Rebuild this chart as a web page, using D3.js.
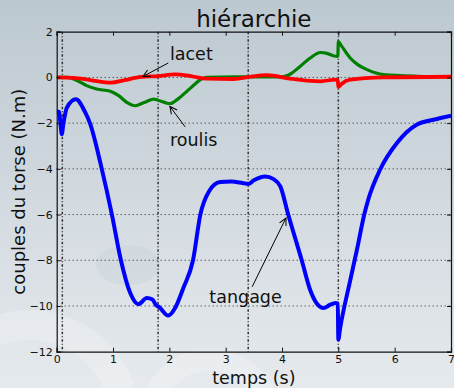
<!DOCTYPE html>
<html>
<head>
<meta charset="utf-8">
<script src="https://cdn.jsdelivr.net/npm/d3@7"></script>
<style>
  html, body { margin: 0; padding: 0; }
  body { width: 454px; height: 388px; overflow: hidden; }
  text { font-family: "DejaVu Sans", sans-serif; }
</style>
</head>
<body>
<div class="box"></div>
<script>
// Values (temps in s, couples in N.m)
const tangageT = [0, 0.04, 0.07, 0.09, 0.12, 0.18, 0.34, 0.5, 0.59, 0.8, 0.98, 1.14, 1.3, 1.45, 1.6, 1.7, 1.76, 1.82, 1.98, 2.1, 2.25, 2.42, 2.55, 2.7, 2.9, 3.1, 3.3, 3.4, 3.5, 3.7, 3.85, 3.97, 4.11, 4.35, 4.5, 4.62, 4.74, 4.85, 4.95, 4.99, 5.0, 5.03, 5.2, 5.33, 5.46, 5.53, 5.74, 6.04, 6.39, 6.75, 7.0];
const tangageV = [-1.5, -1.5, -2.1, -2.48, -2.0, -1.33, -0.96, -1.5, -2.0, -4.0, -6.0, -8.0, -9.4, -9.92, -9.65, -9.72, -9.95, -10.05, -10.42, -10.1, -9.2, -8.0, -6.0, -5.0, -4.58, -4.55, -4.62, -4.66, -4.5, -4.33, -4.45, -4.77, -6.0, -8.0, -9.3, -9.9, -10.09, -9.95, -9.87, -9.9, -11.47, -11.0, -9.0, -7.54, -6.0, -5.35, -4.04, -2.87, -2.07, -1.82, -1.68];

const roulisT = [0, 0.2, 0.35, 0.53, 0.71, 0.95, 1.1, 1.25, 1.39, 1.5, 1.6, 1.72, 1.8, 1.9, 2.01, 2.15, 2.31, 2.45, 2.55, 2.66, 3.2, 4.0, 4.15, 4.32, 4.5, 4.68, 4.8, 4.91, 4.99, 5.0, 5.05, 5.21, 5.35, 5.51, 5.8, 6.4, 7.0];
const roulisV = [0, 0, -0.12, -0.36, -0.51, -0.61, -0.8, -1.1, -1.24, -1.15, -1.05, -0.95, -1.0, -1.08, -1.15, -0.95, -0.61, -0.3, -0.1, 0, 0.02, 0.02, 0.15, 0.48, 0.85, 1.09, 1.05, 0.95, 0.92, 1.57, 1.4, 0.85, 0.55, 0.34, 0.12, 0.05, 0.03];

const lacetT = [0, 0.3, 0.6, 0.97, 1.2, 1.5, 1.8, 2.1, 2.4, 2.66, 3.14, 3.45, 3.73, 4.14, 4.5, 4.68, 4.94, 4.99, 5.0, 5.05, 5.21, 5.8, 7.0];
const lacetV = [0, -0.02, -0.12, -0.23, -0.12, 0.02, 0.06, 0.13, 0.05, -0.05, -0.07, 0.03, 0.1, -0.05, -0.15, -0.17, -0.1, -0.12, -0.42, -0.3, -0.1, 0, 0.03];

// dotted vertical markers (changes of phase)
const eventTimes = [0.1, 1.8, 3.4, 5.0];

const xTicks = [0, 1, 2, 3, 4, 5, 6, 7];
const yTicks = [-12, -10, -8, -6, -4, -2, 0, 2];

// annotations: label, text position, arrow tail, arrow tip (data coords)
const annotations = [
    {label: "lacet",   tx: 2.01, ty: 0.78,  x1: 1.98, y1: 0.63,  x2: 1.53, y2: 0.04},
    {label: "roulis",  tx: 2.01, ty: -2.99, x1: 2.28, y1: -2.16, x2: 2.01, y2: -1.27},
    {label: "tangage", tx: 2.71, ty: -9.87, x1: 3.47, y1: -9.16, x2: 4.07, y2: -6.15}
];

const w = 454;
const h = 388;
const padLeft = 56.7, padRight = 451, padTop = 31.7, padBottom = 351.7;

const xScale = d3.scaleLinear().domain([0, 7]).range([padLeft, padRight]);
const yScale = d3.scaleLinear().domain([-12, 2]).range([padBottom, padTop]);

const svg = d3.select(".box")
    .append("svg")
    .attr("width", w)
    .attr("height", h);

const defs = svg.append("defs");
const grad = defs.append("linearGradient")
    .attr("id", "bg")
    .attr("x1", 0).attr("y1", 0).attr("x2", 0).attr("y2", 1);
grad.append("stop").attr("offset", "0%").attr("stop-color", "#bcc8d0");
grad.append("stop").attr("offset", "55%").attr("stop-color", "#d4dbe1");
grad.append("stop").attr("offset", "100%").attr("stop-color", "#e6eaed");

defs.append("marker")
    .attr("id", "arrow")
    .attr("viewBox", "0 0 10 10")
    .attr("refX", 9).attr("refY", 5)
    .attr("markerWidth", 9).attr("markerHeight", 9)
    .attr("markerUnits", "userSpaceOnUse")
    .attr("orient", "auto")
    .append("path")
    .attr("d", "M1,1 L9,5 L1,9")
    .attr("fill", "none")
    .attr("stroke", "black")
    .attr("stroke-width", 1.1);

defs.append("clipPath").attr("id", "clip")
    .append("rect")
    .attr("x", padLeft).attr("y", padTop - 4)
    .attr("width", padRight - padLeft).attr("height", padBottom - padTop + 8);

// background
svg.append("rect")
    .attr("width", w).attr("height", h)
    .attr("fill", "url(#bg)");

// faint decorative swirls of the slide background
const blobs = svg.append("g").attr("fill", "none").attr("stroke", "#ffffff").attr("stroke-opacity", 0.22);
blobs.append("circle").attr("cx", 30).attr("cy", 420).attr("r", 95).attr("stroke-width", 30);
blobs.append("circle").attr("cx", 210).attr("cy", 420).attr("r", 60).attr("stroke-width", 22);
svg.append("ellipse").attr("cx", 128).attr("cy", 265).attr("rx", 32).attr("ry", 20)
    .attr("fill", "#c7d0d8").attr("opacity", 0.35);

// horizontal dotted grid
svg.append("g")
    .selectAll("line")
    .data(yTicks.filter(d => d > -12 && d < 2))
    .enter()
    .append("line")
    .attr("x1", padLeft).attr("x2", padRight)
    .attr("y1", d => yScale(d)).attr("y2", d => yScale(d))
    .attr("stroke", "#222")
    .attr("stroke-width", 1)
    .attr("stroke-dasharray", "1,3");

// vertical phase lines
svg.append("g")
    .selectAll("line")
    .data(eventTimes)
    .enter()
    .append("line")
    .attr("x1", d => xScale(d)).attr("x2", d => xScale(d))
    .attr("y1", padTop).attr("y2", padBottom)
    .attr("stroke", "#333")
    .attr("stroke-width", 1.5)
    .attr("stroke-dasharray", "2.5,2,1,2");

// curves
const line = d3.line()
    .x(d => xScale(d[0]))
    .y(d => yScale(d[1]))
    .curve(d3.curveMonotoneX);

const series = [
    {t: roulisT, v: roulisV, color: "#008000", width: 3.2},
    {t: lacetT, v: lacetV, color: "#ff0000", width: 3.8},
    {t: tangageT, v: tangageV, color: "#0000ff", width: 4}
];

svg.append("g")
    .selectAll("path")
    .data(series)
    .enter()
    .append("path")
    .attr("clip-path", "url(#clip)")
    .attr("d", s => line(s.t.map((t, i) => [t, s.v[i]])))
    .attr("fill", "none")
    .attr("stroke", s => s.color)
    .attr("stroke-width", s => s.width)
    .attr("stroke-linejoin", "round")
    .attr("stroke-linecap", "butt");

// axes, matplotlib style: ticks inward on all four sides
const xAxis = d3.axisBottom(xScale).tickValues(xTicks).tickSize(-4).tickPadding(4)
    .tickFormat(d3.format("d"));
const yAxis = d3.axisLeft(yScale).tickValues(yTicks).tickSize(-4).tickPadding(4)
    .tickFormat(d => d < 0 ? "\u2212" + Math.abs(d) : d);
const xAxisTop = d3.axisTop(xScale).tickValues(xTicks).tickSize(-4).tickFormat("");
const yAxisRight = d3.axisRight(yScale).tickValues(yTicks).tickSize(-4).tickFormat("");

svg.append("g")
    .attr("transform", "translate(0," + padBottom + ")")
    .call(xAxis)
    .attr("id", "x-axis");
svg.append("g")
    .attr("transform", "translate(" + padLeft + ",0)")
    .call(yAxis)
    .attr("id", "y-axis");
svg.append("g")
    .attr("transform", "translate(0," + padTop + ")")
    .call(xAxisTop);
svg.append("g")
    .attr("transform", "translate(" + padRight + ",0)")
    .call(yAxisRight);

svg.selectAll(".domain").attr("stroke", "#111").attr("stroke-width", 1.2);
svg.selectAll(".tick line").attr("stroke", "#111");
svg.selectAll(".tick text")
    .style("font-family", "DejaVu Sans")
    .style("font-size", "11px")
    .attr("fill", "#111");

// annotations
const ann = svg.append("g");
ann.selectAll("line")
    .data(annotations)
    .enter()
    .append("line")
    .attr("x1", d => xScale(d.x1)).attr("y1", d => yScale(d.y1))
    .attr("x2", d => xScale(d.x2)).attr("y2", d => yScale(d.y2))
    .attr("stroke", "black")
    .attr("stroke-width", 1)
    .attr("marker-end", "url(#arrow)");
ann.selectAll("text")
    .data(annotations)
    .enter()
    .append("text")
    .attr("x", d => xScale(d.tx))
    .attr("y", d => yScale(d.ty))
    .style("font-size", "17.5px")
    .attr("fill", "#111")
    .text(d => d.label);

// title and axis names
svg.append("text")
    .attr("x", (padLeft + padRight) / 2)
    .attr("y", 27)
    .attr("text-anchor", "middle")
    .style("font-size", "23px")
    .attr("fill", "#111")
    .text("hiérarchie");

svg.append("text")
    .attr("x", (padLeft + padRight) / 2)
    .attr("y", 384)
    .attr("text-anchor", "middle")
    .style("font-size", "17.5px")
    .attr("fill", "#111")
    .text("temps (s)");

svg.append("text")
    .attr("transform", "translate(25," + ((padTop + padBottom) / 2) + ") rotate(-90)")
    .attr("text-anchor", "middle")
    .style("font-size", "18px")
    .attr("fill", "#111")
    .text("couples du torse (N.m)");
</script>
</body>
</html>
